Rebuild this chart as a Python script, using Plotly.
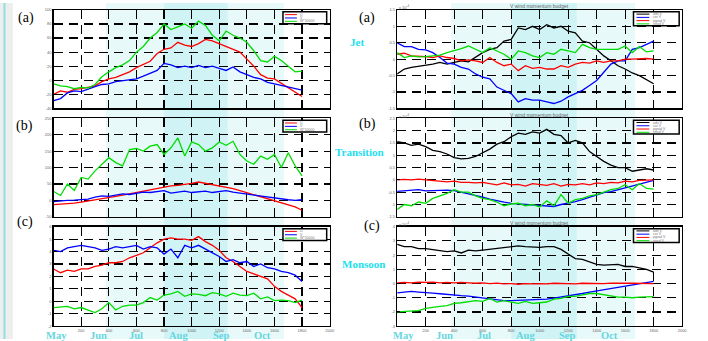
import plotly.graph_objects as go

W, H = 708, 341


def px(x):
    return x / W


def py(y):
    return 1 - y / H


# ---------------- data ----------------
STEPS = list(range(0, 1801, 50))
X_TICKS = [200, 400, 600, 800, 1000, 1200, 1400, 1600, 1800, 2000]
MONTHS = ["May", "Jun", "Jul", "Aug", "Sep", "Oct"]
MONTH_POS_LEFT = [22, 324, 597, 907, 1216, 1517]
MONTH_POS_RIGHT = [42, 335, 606, 899, 1192, 1491]
ROWS = ["(a)", "(b)", "(c)"]
REGIMES = ["Jet", "Transition", "Monsoon"]
LEFT_NAMES = ["U", "V", "W*10000"]
RIGHT_NAMES = ["adv V", "cor V", "pgrad V", "resid V"]
RIGHT_TITLE = "V wind momentum budget"

# left column (a) Jet
jet_u = [-20, -15, -17, -13, -12, -10, -8, -2, 2, 4, 8, 12, 18, 22, 27, 38, 44, 46, 54, 50,
         48, 52, 58, 56, 52, 48, 44, 40, 30, 20, 8, 3, 2, -4, -10, -17, -23]
jet_v = [-29, -26, -18, -15, -16, -12, -9, -6, -5, -2, -1, 0, 2, 6, 10, 14, 24, 22, 18, 20,
         18, 21, 18, 20, 17, 14, 19, 12, 8, 4, 2, -3, -5, -7, -9, -12, -14]
jet_w = [-5, -8, -9, -12, -10, -11, -6, 5, 12, 18, 22, 28, 40, 48, 60, 68, 80, 72, 76, 80,
         74, 84, 78, 64, 56, 70, 64, 60, 54, 42, 28, 26, 34, 28, 20, 12, 13]
# left column (b) Transition
tr_u = [-13, -12, -10, -8, -5, -2, 1, 4, 8, 12, 16, 20, 24, 28, 32, 38, 42, 44, 46, 48,
        52, 56, 52, 48, 45, 40, 36, 30, 24, 18, 12, 6, 0, -6, -12, -20, -30]
tr_v = [-4, -1, 0, 1, 2, 4, 10, 14, 12, 16, 20, 18, 22, 25, 24, 28, 30, 22, 26, 28,
        24, 26, 28, 24, 26, 30, 25, 22, 20, 16, 12, 10, 6, 4, 2, 0, 2]
tr_w = [27, 15, 50, 30, 70, 65, 90, 110, 130, 115, 105, 155, 158, 150, 165, 170, 140, 160, 190, 135,
        178, 170, 150, 160, 178, 168, 180, 140, 120, 110, 135, 125, 140, 100, 145, 105, 75]
# left column (c) Monsoon
mo_u = [2.6, 2.3, 2.5, 2.4, 2.6, 2.6, 2.8, 2.9, 3.1, 3.1, 3.2, 3.5, 3.7, 3.9, 4.3, 4.7, 5.0, 5.1, 5.0, 5.0,
        4.9, 5.2, 4.8, 4.5, 4.1, 3.5, 3.2, 2.8, 2.4, 2.2, 2.0, 1.8, 1.2, 0.8, 0.5, 0.2, -0.5]
mo_v = [4.1, 4.0, 4.3, 4.4, 4.5, 4.4, 4.3, 4.1, 4.2, 4.4, 4.3, 4.4, 4.5, 4.2, 4.4, 4.3, 3.8, 4.2, 3.5, 4.5,
        4.3, 4.5, 4.2, 3.9, 3.6, 3.2, 3.35, 3.1, 3.2, 2.8, 3.0, 2.7, 2.6, 2.4, 2.3, 2.1, 1.6]
mo_w = [-0.5, -0.45, -0.4, -0.6, -0.5, -0.7, -0.9, -0.6, -0.1, -0.7, -0.4, -0.3, -0.3, -0.1, 0.3, 0.1, 0.5, 0.6, 0.8, 0.4,
        0.6, 0.55, 0.45, 0.7, 0.6, 0.4, 0.65, 0.5, 0.45, 0.65, 0.2, 0.35, 0.05, 0.1, 0.05, -0.1, 0.1]

# right column (a) Jet, units 1e-4
jb_adv = [-0.45, -0.3, -0.25, -0.22, -0.2, -0.15, -0.1, -0.15, -0.1, -0.05, -0.08, 0.05, 0.2, 0.3, 0.35, 0.55, 0.6, 0.95, 0.9, 1.0,
          0.9, 1.05, 0.95, 1.0, 0.85, 0.8, 0.55, 0.5, 0.3, 0.1, -0.05, -0.2, -0.3, -0.42, -0.5, -0.62, -0.75]
jb_cor = [0.5, 0.38, 0.38, 0.3, 0.28, 0.2, 0.05, -0.12, -0.15, -0.25, -0.3, -0.45, -0.55, -0.6, -0.85, -0.95, -1.05, -1.3, -1.2, -1.25,
          -1.25, -1.3, -1.35, -1.28, -1.15, -1.05, -0.95, -0.8, -0.65, -0.4, -0.15, -0.05, -0.05, 0.3, 0.35, 0.45, 0.55]
jb_pg = [0.15, 0.18, 0.1, 0.1, 0.08, 0.05, 0.1, 0.05, 0.02, -0.05, -0.02, -0.05, -0.1, 0.05, -0.1, -0.2, -0.15, -0.35, -0.2, -0.28,
         -0.25, -0.3, -0.3, -0.2, -0.25, -0.15, -0.1, -0.12, -0.05, -0.1, -0.05, -0.05, 0.0, 0.0, 0.02, 0.02, 0.0]
jb_res = [0.2, 0.05, 0.1, 0.07, 0.08, 0.1, 0.12, 0.2, 0.25, 0.32, 0.4, 0.3, 0.2, 0.35, 0.25, 0.15, 0.0, 0.25, 0.2, 0.1,
          0.05, 0.2, 0.15, 0.3, 0.25, 0.2, 0.45, 0.35, 0.3, 0.3, 0.32, 0.3, 0.4, 0.2, 0.38, 0.22, 0.25]
# right column (b) Transition
tb_adv = [1.55, 1.5, 1.4, 1.45, 1.35, 1.2, 1.15, 1.05, 0.9, 0.85, 0.87, 0.95, 1.1, 1.25, 1.45, 1.55, 1.75, 1.9, 1.85, 1.95,
          1.9, 2.05, 1.85, 1.8, 1.5, 1.6, 1.5, 1.15, 0.95, 0.75, 0.6, 0.5, 0.5, 0.35, 0.4, 0.45, 0.4]
tb_cor = [-0.47, -0.45, -0.42, -0.4, -0.45, -0.43, -0.42, -0.42, -0.44, -0.5, -0.55, -0.62, -0.7, -0.78, -0.85, -0.9, -0.95, -0.97, -0.98, -1.0,
          -1.02, -1.05, -1.08, -1.0, -0.95, -0.88, -0.8, -0.7, -0.6, -0.52, -0.48, -0.4, -0.32, -0.25, -0.18, -0.1, -0.02]
tb_pg = [0.0, 0.02, 0.0, 0.03, 0.0, -0.02, -0.05, -0.08, -0.05, -0.1, -0.1, -0.12, -0.1, -0.15, -0.2, -0.12, -0.2, -0.18, -0.25, -0.15,
         -0.2, -0.22, -0.15, -0.25, -0.18, -0.2, -0.15, -0.2, -0.12, -0.15, -0.1, -0.12, -0.05, -0.08, -0.02, 0.0, 0.0]
tb_res = [-1.2, -1.0, -1.05, -0.9, -0.95, -0.75, -0.65, -0.55, -0.4, -0.5, -0.5, -0.65, -0.75, -0.8, -0.9, -1.05, -0.98, -0.95, -1.05, -1.0,
          -1.1, -0.85, -1.05, -0.6, -0.95, -0.8, -0.75, -0.65, -0.6, -0.5, -0.4, -0.35, -0.2, -0.4, -0.15, -0.35, -0.38]
# right column (c) Monsoon
mb_adv = [2.75, 2.6, 2.6, 2.45, 2.45, 2.4, 2.3, 2.25, 2.3, 2.15, 2.35, 2.3, 2.35, 2.4, 2.5, 2.5, 2.55, 2.65, 2.6, 2.58,
          2.55, 2.6, 2.6, 2.4, 2.1, 1.75, 1.7, 1.55, 1.35, 1.3, 1.3, 1.35, 1.2, 1.2, 1.1, 1.0, 0.8]
mb_cor = [-0.65, -0.58, -0.55, -0.6, -0.62, -0.68, -0.72, -0.78, -0.8, -0.85, -0.88, -0.95, -1.0, -1.1, -1.15, -1.2, -1.2, -1.18, -1.2, -1.18,
          -1.15, -1.1, -1.02, -0.95, -0.88, -0.78, -0.7, -0.6, -0.52, -0.45, -0.35, -0.28, -0.2, -0.12, -0.05, 0.05, 0.15]
mb_pg = [0.05, 0.08, 0.05, 0.1, 0.08, 0.1, 0.05, 0.08, 0.05, 0.08, 0.05, 0.02, 0.05, 0.0, 0.03, -0.02, 0.0, -0.05, 0.0, -0.03,
         0.0, -0.02, 0.02, 0.0, 0.0, -0.02, 0.02, 0.0, 0.02, 0.0, 0.03, 0.0, 0.02, 0.02, 0.0, 0.02, 0.0]
mb_res = [-2.0, -1.95, -1.9, -1.9, -1.75, -1.65, -1.6, -1.55, -1.4, -1.35, -1.3, -1.2, -1.25, -1.05, -1.3, -1.2, -1.3, -1.4, -1.25, -1.4,
          -1.35, -1.3, -1.1, -1.05, -0.9, -0.9, -0.8, -0.7, -0.7, -0.8, -0.85, -0.95, -0.95, -1.0, -0.95, -0.95, -0.92]

LEFT_SERIES = [[jet_u, jet_v, jet_w], [tr_u, tr_v, tr_w], [mo_u, mo_v, mo_w]]
RIGHT_SERIES = [[jb_adv, jb_cor, jb_pg, jb_res], [tb_adv, tb_cor, tb_pg, tb_res],
                [mb_adv, mb_cor, mb_pg, mb_res]]
LEFT_RANGES = [(-40, 100, 20), (-50, 250, 50), (-2, 6, 1)]
RIGHT_RANGES = [(-1.5, 1.5, 0.5), (-1.5, 2.5, 0.5), (-3, 4, 1)]

# ---------------- styles ----------------
LEFT_COLORS = ["#ff0000", "#0000ff", "#00dd00"]
RIGHT_COLORS = ["#000000", "#0000ff", "#ff0000", "#00dd00"]
ROW_TOPS = [7, 117, 227]
ROW_BOTS = [107, 217, 328]
LEFT_X = (54, 332)
RIGHT_X = (400, 687)
CYAN = "#22e0ee"
MONTH_C = "#66d6de"

fig = go.Figure()
layout = dict(width=W, height=H, margin=dict(l=0, r=0, t=0, b=0),
              paper_bgcolor="white", plot_bgcolor="rgba(0,0,0,0)", showlegend=False)


def axis_common():
    return dict(showgrid=True, gridcolor="black", gridwidth=1.2, griddash="9px,6px",
                showline=True, linecolor="black", linewidth=1.3, mirror=True,
                ticks="inside", ticklen=3, tickcolor="black", zeroline=False,
                tickfont=dict(size=4, color="#666", family="Liberation Sans"))


for r in range(3):
    for c in range(2):
        idx = r * 2 + c + 1
        xs = "" if idx == 1 else str(idx)
        xd = LEFT_X if c == 0 else RIGHT_X
        rng = LEFT_RANGES[r] if c == 0 else RIGHT_RANGES[r]
        xa = axis_common()
        xa.update(domain=[px(xd[0]), px(xd[1])], anchor="y" + xs, range=[0, 2000],
                  tickmode="array", tickvals=X_TICKS, ticktext=[str(t) for t in X_TICKS],
                  showticklabels=(r == 2))
        ya = axis_common()
        n = int(round((rng[1] - rng[0]) / rng[2]))
        yvals = [round(rng[0] + k * rng[2], 3) for k in range(n + 1)]
        ya.update(domain=[py(ROW_BOTS[r]), py(ROW_TOPS[r])], anchor="x" + xs,
                  range=[rng[0], rng[1]], tickmode="array", tickvals=yvals,
                  ticktext=[("%g" % v) for v in yvals])
        layout["xaxis" + xs] = xa
        layout["yaxis" + xs] = ya
        series = LEFT_SERIES[r] if c == 0 else RIGHT_SERIES[r]
        colors = LEFT_COLORS if c == 0 else RIGHT_COLORS
        names = LEFT_NAMES if c == 0 else RIGHT_NAMES
        for s, col, nm in zip(series, colors, names):
            fig.add_trace(go.Scatter(x=STEPS, y=s, mode="lines", name=nm,
                                     line=dict(color=col, width=1.3),
                                     xaxis="x" + xs, yaxis="y" + xs))

shapes = []
# season shading bands
for xr in ["x", "x2"]:
    shapes.append(dict(type="rect", xref=xr, yref="paper", x0=380, x1=1670, y0=0, y1=1,
                       fillcolor="#e8f9fa", line=dict(width=0), layer="below"))
    shapes.append(dict(type="rect", xref=xr, yref="paper", x0=800, x1=1260, y0=0, y1=1,
                       fillcolor="#d0f4f6", line=dict(width=0), layer="below"))
# left page strip
shapes.append(dict(type="rect", xref="paper", yref="paper", x0=0, x1=px(13), y0=0, y1=1,
                   fillcolor="#eeeeee", line=dict(width=0), layer="below"))
shapes.append(dict(type="line", xref="paper", yref="paper", x0=px(4.5), x1=px(4.5), y0=0, y1=1,
                   line=dict(color="#8fe0e0", width=2), layer="below"))

annotations = []


def text(x, y, s, size, color="black", family="Liberation Serif", bold=False, xanchor="center",
         xref="paper", pad=1):
    annotations.append(dict(x=x if xref != "paper" else px(x), y=py(y), xref=xref, yref="paper",
                            text=("<b>%s</b>" % s) if bold else s, showarrow=False,
                            xanchor=xanchor, yanchor="middle", borderpad=pad,
                            font=dict(size=size, color=color, family=family)))


# legends
for r in range(3):
    off = ROW_TOPS[r] - 7
    # left legend
    shapes.append(dict(type="rect", xref="paper", yref="paper", x0=px(285), x1=px(329),
                       y0=py(21 + off), y1=py(9 + off), fillcolor="white",
                       line=dict(color="black", width=1.5)))
    for k, (col, nm) in enumerate(zip(LEFT_COLORS, LEFT_NAMES)):
        yy = 11.8 + 3.4 * k + off
        shapes.append(dict(type="line", xref="paper", yref="paper", x0=px(287), x1=px(299),
                           y0=py(yy), y1=py(yy), line=dict(color=col, width=1)))
        text(301, yy, nm, 3.5, "#777", "Liberation Sans", xanchor="left", pad=0)
    # right legend
    shapes.append(dict(type="rect", xref="paper", yref="paper", x0=px(638), x1=px(684),
                       y0=py(23 + off), y1=py(9 + off), fillcolor="white",
                       line=dict(color="black", width=1.5)))
    for k, (col, nm) in enumerate(zip(RIGHT_COLORS, RIGHT_NAMES)):
        yy = 11.3 + 3.3 * k + off
        shapes.append(dict(type="line", xref="paper", yref="paper", x0=px(641), x1=px(654),
                           y0=py(yy), y1=py(yy), line=dict(color=col, width=1)))
        text(657, yy, nm, 3.5, "#777", "Liberation Sans", xanchor="left", pad=0)
    # right titles / exponent
    text(543, 3.5 + off, RIGHT_TITLE, 5, "#666", "Liberation Sans", pad=0)
    text(401, 4.5 + off, "x 10<sup>-4</sup>", 4, "#666", "Liberation Sans", xanchor="left", pad=0)

# panel labels
LEFT_LAB_POS = [(26, 15), (25, 125), (25, 222)]
RIGHT_LAB_POS = [(370, 15), (370, 123), (375, 226)]
for r in range(3):
    text(LEFT_LAB_POS[r][0], LEFT_LAB_POS[r][1], ROWS[r], 14)
    text(RIGHT_LAB_POS[r][0], RIGHT_LAB_POS[r][1], ROWS[r], 14)

# regime labels
REGIME_POS = [(360, 40), (362, 151), (366, 265)]
for lab, (x, y) in zip(REGIMES, REGIME_POS):
    text(x, y, lab, 11, CYAN, bold=True)

# month labels
for m, xl, xr in zip(MONTHS, MONTH_POS_LEFT, MONTH_POS_RIGHT):
    text(xl, 337.5, m, 10.5, MONTH_C, bold=True, xref="x5", pad=0)
    text(xr, 337.5, m, 10.5, MONTH_C, bold=True, xref="x6", pad=0)

layout["shapes"] = shapes
layout["annotations"] = annotations
fig.update_layout(**layout)
fig.write_html(
    "out.html",
    config={"displayModeBar": False, "staticPlot": True},
    post_script="document.body.style.margin='0';document.body.style.padding='0';"
                "document.body.style.overflow='hidden';",
)
